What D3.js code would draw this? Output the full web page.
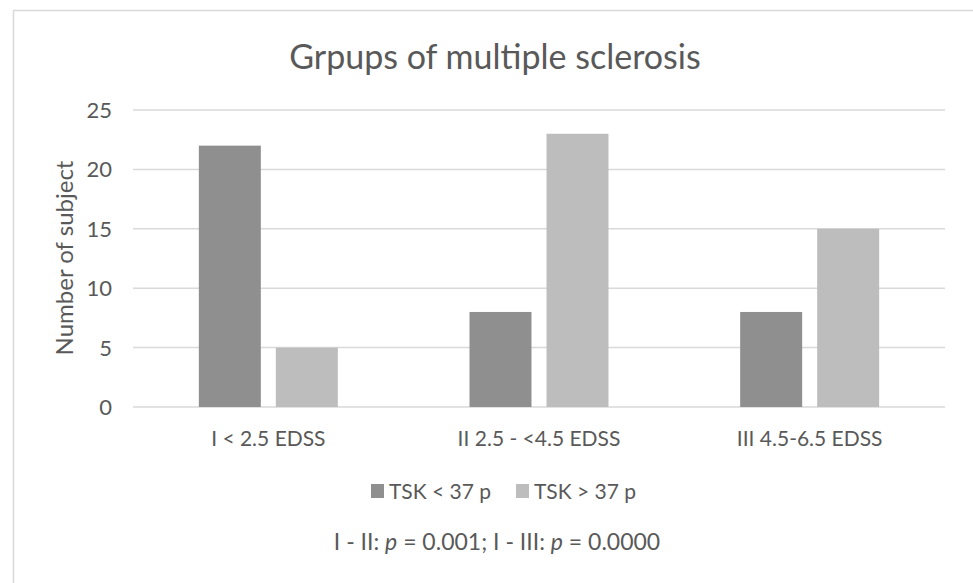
<!DOCTYPE html>
<html>
<head>
<meta charset="utf-8">
<script src="https://cdn.jsdelivr.net/npm/d3@7"></script>
<style>
  body { margin: 0; background: #fff; }
  svg { font-family: Lato, "Open Sans", sans-serif; }
  text { fill: #595959; }
</style>
</head>
<body>
<svg id="chart" width="973" height="583"></svg>
<script>
const categories = ["I < 2.5 EDSS", "II 2.5 - <4.5 EDSS", "III 4.5-6.5 EDSS"];
const seriesNames = ["TSK < 37 p", "TSK > 37 p"];
const lowTsk = [22, 8, 8];
const highTsk = [5, 23, 15];
const yTicks = [0, 5, 10, 15, 20, 25];

const colors = ["#8f8f8f", "#bdbdbd"];

const width = 973, height = 583;
const margin = { top: 110, right: 28, bottom: 176, left: 133 };

const svg = d3.select("#chart");

// chart frame
svg.append("rect")
  .attr("x", 13.5).attr("y", 10.5)
  .attr("width", 980).attr("height", 600)
  .attr("fill", "none").attr("stroke", "#d9d9d9").attr("stroke-width", 1.5);

const x = d3.scaleBand()
  .domain(categories)
  .range([margin.left, width - margin.right]);

const y = d3.scaleLinear()
  .domain([0, 25])
  .range([height - margin.bottom, margin.top]);

// grid lines
svg.append("g")
  .selectAll("line")
  .data(yTicks)
  .join("line")
  .attr("x1", margin.left).attr("x2", width - margin.right)
  .attr("y1", y).attr("y2", y)
  .attr("stroke", "#d9d9d9").attr("stroke-width", 1.5);

// y tick labels
svg.append("g")
  .selectAll("text")
  .data(yTicks)
  .join("text")
  .attr("x", 112).attr("y", y)
  .attr("dy", "0.36em")
  .attr("text-anchor", "end")
  .attr("font-size", 22)
  .text((d) => d);

// bars
const barW = 62, barGap = 15;
const rows = categories.map((c, i) => ({ cat: c, values: [lowTsk[i], highTsk[i]] }));
const group = svg.append("g")
  .selectAll("g")
  .data(rows)
  .join("g")
  .attr("transform", (d) => `translate(${x(d.cat) + x.bandwidth() / 2},0)`);

group.selectAll("rect")
  .data((d) => d.values)
  .join("rect")
  .attr("x", (d, i) => (i === 0 ? -barW - barGap / 2 : barGap / 2))
  .attr("y", (d) => y(d))
  .attr("width", barW)
  .attr("height", (d) => y(0) - y(d))
  .attr("fill", (d, i) => colors[i]);

// x labels
svg.append("g")
  .selectAll("text")
  .data(categories)
  .join("text")
  .attr("x", (d) => x(d) + x.bandwidth() / 2)
  .attr("y", 446)
  .attr("text-anchor", "middle")
  .attr("font-size", 21)
  .text((d) => d);

// title
svg.append("text")
  .attr("x", 495).attr("y", 69)
  .attr("text-anchor", "middle")
  .attr("font-size", 34)
  .text("Grpups of multiple sclerosis");

// y axis title
svg.append("text")
  .attr("transform", "translate(73,258) rotate(-90)")
  .attr("text-anchor", "middle")
  .attr("font-size", 24)
  .text("Number of subject");

// legend
const legend = svg.append("g")
  .selectAll("g")
  .data(seriesNames)
  .join("g")
  .attr("transform", (d, i) => `translate(${371 + i * 145},499)`);
legend.append("rect")
  .attr("x", 0).attr("y", -15)
  .attr("width", 13).attr("height", 14)
  .attr("fill", (d, i) => colors[i]);
legend.append("text")
  .attr("x", 18).attr("y", 0)
  .attr("font-size", 21)
  .text((d) => d);

// significance note
const note = svg.append("text")
  .attr("x", 497).attr("y", 550)
  .attr("text-anchor", "middle")
  .attr("font-size", 23);
note.append("tspan").text("I - II: ");
note.append("tspan").attr("font-style", "italic").text("p");
note.append("tspan").text(" = 0.001; I - III: ");
note.append("tspan").attr("font-style", "italic").text("p");
note.append("tspan").text(" = 0.0000");
</script>
</body>
</html>
